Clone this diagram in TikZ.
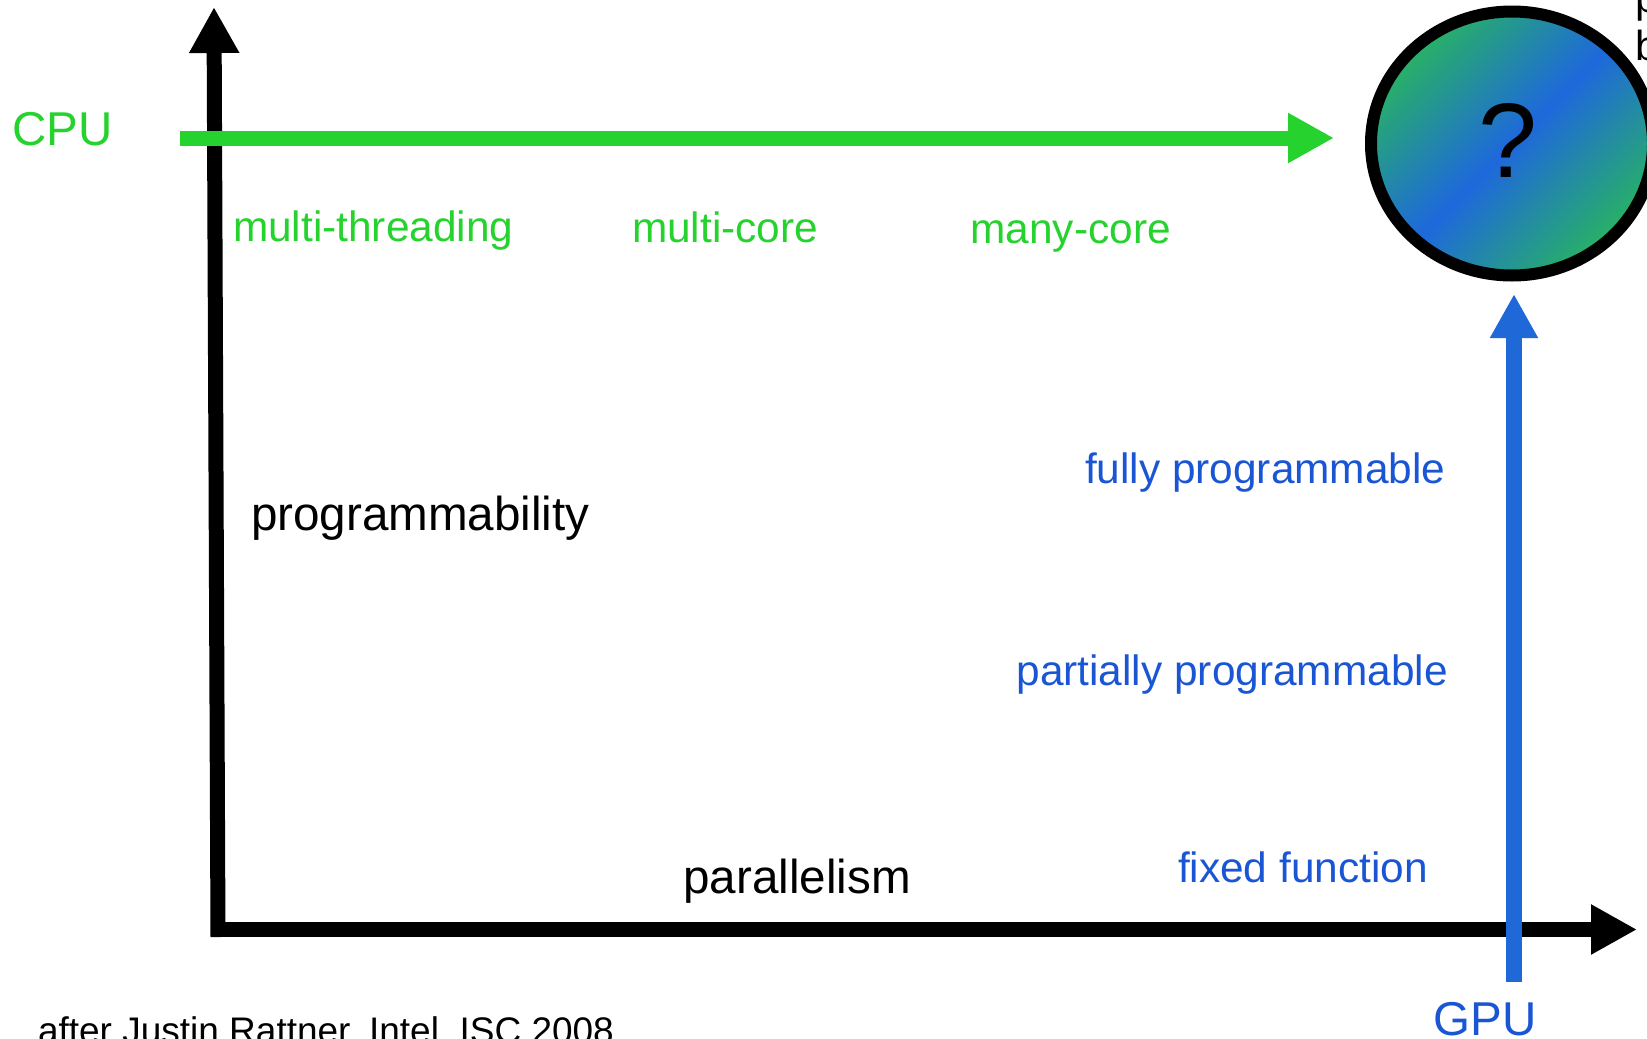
\documentclass[tikz,border=0pt]{standalone}
\usepackage{fontspec}
\setmainfont{Liberation Sans}
\usetikzlibrary{arrows.meta,shapes.geometric}
\definecolor{cpugreen}{RGB}{38,210,46}
\definecolor{gpublue}{RGB}{30,104,216}
\definecolor{gputext}{RGB}{26,86,212}
\definecolor{shgreen}{RGB}{40,178,100}
\definecolor{shblue}{RGB}{30,104,220}
\tikzset{
  txt/.style={inner sep=0pt, outer sep=0pt, anchor=base west},
  greentxt/.style={txt, text=cpugreen, font=\fontsize{42.4}{50}\selectfont},
  bluetxt/.style={txt, text=gputext, font=\fontsize{42.4}{50}\selectfont},
  blacktxt/.style={txt, text=black, font=\fontsize{47.6}{56}\selectfont},
  axisline/.style={draw=black, line width=15pt, -{Triangle[length=46pt,width=47pt]}},
  cpuline/.style={draw=cpugreen, line width=15pt, -{Triangle[length=46pt,width=47pt]}},
  gpuline/.style={draw=gpublue, line width=16pt, -{Triangle[length=44pt,width=45pt]}},
}
\begin{document}
\begin{tikzpicture}[x=1pt,y=-1pt]
\useasboundingbox (0,0) rectangle (1647,1039);
\clip (0,0) rectangle (1647,1039);
% axes
\coordinate (yaxbot) at (218,937);
\coordinate (yaxtop) at (214,7);
\coordinate (xaxleft) at (211,929.5);
\coordinate (xaxright) at (1637,929.5);
\draw[axisline] (yaxbot) -- (yaxtop);
\draw[axisline] (xaxleft) -- (xaxright);
% CPU arrow
\coordinate (cpustart) at (180,138);
\coordinate (cpuend) at (1334,138);
\draw[cpuline] (cpustart) -- (cpuend);
% GPU arrow
\coordinate (gpustart) at (1514,982);
\coordinate (gpuend) at (1514,294);
\draw[gpuline] (gpustart) -- (gpuend);
% question circle
\node[ellipse, draw=black, line width=12pt, minimum width=282pt, minimum height=264pt,
      inner sep=0pt, top color=shgreen, bottom color=shgreen, middle color=shblue,
      shading angle=45] (q) at (1512,143.5) {};
\node[inner sep=0pt, font=\fontsize{106}{120}\selectfont] (qmark) at (1508,140) {?};
% labels
\node[txt, text=cpugreen, font=\fontsize{47.5}{56}\selectfont] (cpu) at (12.5,145) {CPU};
\node[greentxt] (mt) at (233,241.6) {multi-threading};
\node[greentxt] (mc) at (632,242) {multi-core};
\node[greentxt] (manyc) at (970.5,243) {many-core};
\node[blacktxt] (prog) at (251,530) {programmability};
\node[blacktxt] (par) at (683.5,893) {parallelism};
\node[bluetxt] (fp) at (1085,483) {fully programmable};
\node[bluetxt] (pp) at (1016.5,685) {partially programmable};
\node[bluetxt] (ff) at (1178,882) {fixed function};
\node[txt, text=gputext, font=\fontsize{47.5}{56}\selectfont] (gpu) at (1433.5,1035) {GPU};
\node[txt, font=\fontsize{37}{44}\selectfont] (note) at (38,1043.5) {after Justin Rattner, Intel, ISC 2008};
\node[txt, font=\fontsize{42}{50}\selectfont] (tr1) at (1635,12) {p};
\node[txt, font=\fontsize{42}{50}\selectfont] (tr2) at (1635,60) {b};
\end{tikzpicture}
\end{document}
